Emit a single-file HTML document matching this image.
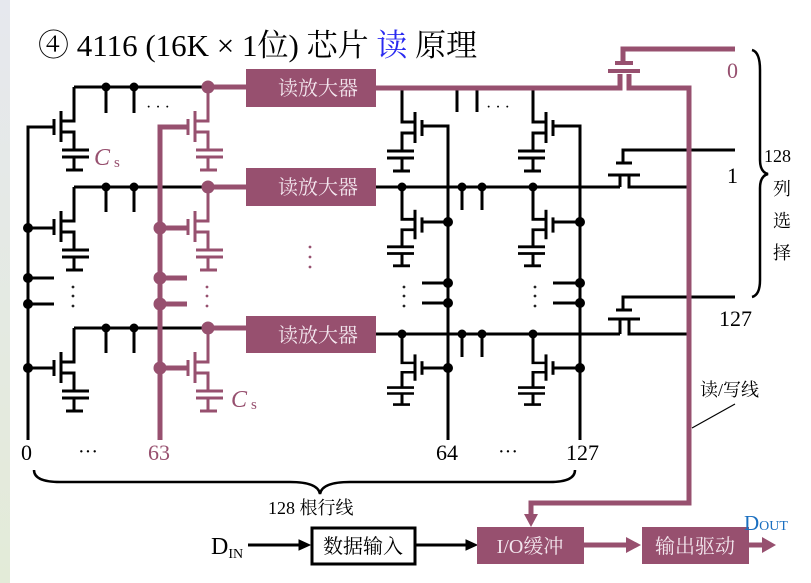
<!DOCTYPE html>
<html><head><meta charset="utf-8"><style>
html,body{margin:0;padding:0;background:#fff;}
svg{display:block;}
text{font-family:"Liberation Serif","Noto Serif CJK SC",serif;}
.bx{font-family:"Liberation Serif","Noto Serif CJK SC",serif;fill:#f3e6ee;font-size:20px;}
</style></head><body>
<svg width="811" height="583" viewBox="0 0 811 583" xmlns="http://www.w3.org/2000/svg">
<defs>
<linearGradient id="lg" x1="0" y1="0" x2="0" y2="1"><stop offset="0" stop-color="#e6e8ee"/><stop offset="1" stop-color="#e3ebd8"/></linearGradient>
<g id="cell" fill="none" stroke-width="3">
<path d="M0,0 V34 H-13"/><path d="M-13,24 V55"/><path d="M-20,32 V48"/>
<path d="M-13,45 H0 V63"/><path d="M-12,63 H15 M-12,70 H15 M0,70 V83 M-8,83 H9"/>
</g>
</defs>
<rect x="0" y="0" width="10" height="583" fill="url(#lg)"/>
<text x="38" y="56" font-size="31" fill="#000">④ 4116 (16K × 1位) 芯片 <tspan fill="#2a2af0">读</tspan> 原理</text>

<g stroke="#000" fill="#000" stroke-width="3">
<path d="M54,127 H28 V440" fill="none"/>
<path d="M28,228 H54 M28,278 H54 M28,304 H54 M28,368 H54"/>
<circle cx="28" cy="228" r="3.5"/><circle cx="28" cy="278" r="3.5"/><circle cx="28" cy="304" r="3.5"/><circle cx="28" cy="368" r="3.5"/>
<path d="M74,87 H208 M74,187 H208 M74,328 H208"/>
<path d="M106,87 V113 M134,87 V113 M106,187 V212 M134,187 V212 M106,328 V353 M134,328 V353"/>
<circle cx="106" cy="87" r="3"/><circle cx="134" cy="87" r="3"/><circle cx="106" cy="187" r="3"/><circle cx="134" cy="187" r="3"/><circle cx="106" cy="328" r="3"/><circle cx="134" cy="328" r="3"/>
<use href="#cell" x="74" y="87"/><use href="#cell" x="74" y="187"/><use href="#cell" x="74" y="328"/>
<path d="M376,187 H620 M376,334 H620"/>
<path d="M462,187 V210 M482,187 V210 M462,334 V357 M482,334 V357 M457,88 V112 M477,88 V112"/>
<circle cx="462" cy="187" r="3"/><circle cx="482" cy="187" r="3"/><circle cx="462" cy="334" r="3"/><circle cx="482" cy="334" r="3"/>
<circle cx="402" cy="187" r="3"/><circle cx="533" cy="187" r="3"/><circle cx="402" cy="334" r="3"/><circle cx="533" cy="334" r="3"/>
<path d="M421,126 H448 V440 M553,126 H580 V440" fill="none"/>
<path d="M448,222 H421 M448,283 H422 M448,303 H422 M448,368 H421 M580,222 H553 M580,283 H553 M580,303 H553 M580,368 H553"/>
<circle cx="448" cy="222" r="3.5"/><circle cx="448" cy="283" r="3.5"/><circle cx="448" cy="303" r="3.5"/><circle cx="448" cy="368" r="3.5"/>
<circle cx="580" cy="222" r="3.5"/><circle cx="580" cy="283" r="3.5"/><circle cx="580" cy="303" r="3.5"/><circle cx="580" cy="368" r="3.5"/>
<g transform="translate(402,88) scale(-1,1)"><use href="#cell"/></g>
<g transform="translate(533,88) scale(-1,1)"><use href="#cell"/></g>
<g transform="translate(402,187) scale(-1,0.95)"><use href="#cell"/></g>
<g transform="translate(533,187) scale(-1,0.95)"><use href="#cell"/></g>
<g transform="translate(402,334) scale(-1,0.85)"><use href="#cell"/></g>
<g transform="translate(533,334) scale(-1,0.85)"><use href="#cell"/></g>
<path d="M735,150 H623 V163 M616,163 H632 M608,175 H640 M620,175 V187 M629,175 V187 H690" fill="none"/>
<path d="M735,297 H623 V310 M616,310 H632 M608,319 H640 M620,319 V334 M629,319 V334 H690" fill="none"/>
<path d="M248,545 H300" /><path d="M416,545 H468"/>
<path d="M466,540 L477,545 L466,550 Z" stroke-width="1"/><path d="M299,540 L310,545 L299,550 Z" stroke-width="1"/>
<path d="M34,470 Q34,482 60,482 H290 Q318,482 320,494 Q322,482 350,482 H550 Q575,482 575,470" fill="none" stroke-width="2.5"/>
<path d="M752,50 Q760,52 760,70 V160 Q760,172 768,174 Q760,176 760,188 V280 Q760,295 752,297" fill="none" stroke-width="2.5"/>
<path d="M735,404 L692,428" stroke-width="1.2"/>
</g>

<g stroke="#97506f" fill="#97506f" stroke-width="3">
<path d="M187,127 H160 V440" fill="none" stroke-width="5"/>
<path d="M160,228 H187 M160,278 H187 M160,304 H187 M160,368 H187" stroke-width="5"/>
<circle cx="160" cy="228" r="5"/><circle cx="160" cy="278" r="5"/><circle cx="160" cy="304" r="5"/><circle cx="160" cy="368" r="5"/>
<g transform="translate(1,0)"><use href="#cell" x="207" y="87"/><use href="#cell" x="207" y="187"/><use href="#cell" x="207" y="328"/></g>
<path d="M208,87 H246 M208,187 H246 M208,328 H246" stroke-width="5"/>
<circle cx="208" cy="87" r="5"/><circle cx="208" cy="187" r="5"/><circle cx="208" cy="328" r="5"/>
<rect x="246" y="69" width="130" height="38" stroke="none"/>
<rect x="246" y="168" width="130" height="38" stroke="none"/>
<rect x="246" y="316" width="130" height="37" stroke="none"/>
<path d="M376,88 H620 V74 M629,74 V88 H689 V503 H531 V518" fill="none" stroke-width="5"/>
<path d="M524,514 L531,527 L538,514 Z" stroke="none"/>
<path d="M735,49 H623 V63" fill="none" stroke-width="5"/>
<path d="M615,63 H633 M608,71 H640" stroke-width="4"/>
<rect x="477" y="527" width="107" height="37" stroke="none"/>
<rect x="642" y="527" width="107" height="37" stroke="none"/>
<path d="M584,545 H628 M749,545 H764" stroke-width="5"/>
<path d="M626,537 L641,545 L626,553 Z M762,537 L776,545 L762,553 Z" stroke="none"/>
</g>
<rect x="312" y="528" width="103" height="36" fill="#fff" stroke="#000" stroke-width="3"/>

<g fill="#000" font-size="16">
<text x="146" y="112">· · ·</text>
<text x="486" y="112">· · ·</text>
<text x="78" y="458" font-size="20">···</text>
<text x="436" y="460" font-size="22">64</text>
<text x="498" y="458" font-size="20">···</text>
<text x="566" y="460" font-size="22">127</text>
<text x="21" y="460" font-size="22">0</text>
</g>
<g fill="#222">
<circle cx="73" cy="287" r="1.4"/><circle cx="73" cy="296" r="1.4"/><circle cx="73" cy="306" r="1.4"/>
<circle cx="404" cy="287" r="1.4"/><circle cx="404" cy="296" r="1.4"/><circle cx="404" cy="306" r="1.4"/>
<circle cx="535" cy="287" r="1.4"/><circle cx="535" cy="296" r="1.4"/><circle cx="535" cy="306" r="1.4"/>
</g>
<g fill="#97506f">
<circle cx="207" cy="287" r="1.4"/><circle cx="207" cy="296" r="1.4"/><circle cx="207" cy="306" r="1.4"/>
<circle cx="310" cy="247" r="1.4"/><circle cx="310" cy="257" r="1.4"/><circle cx="310" cy="267" r="1.4"/>
</g>
<text x="148" y="460" font-size="22" fill="#97506f">63</text>

<text x="94" y="165" font-size="24" font-style="italic" fill="#97506f">C</text><text x="114" y="167" font-size="15" fill="#97506f">s</text>
<text x="231" y="407" font-size="24" font-style="italic" fill="#97506f">C</text><text x="251" y="409" font-size="15" fill="#97506f">s</text>

<text class="bx" x="318" y="95" text-anchor="middle">读放大器</text>
<text class="bx" x="318" y="194" text-anchor="middle">读放大器</text>
<text class="bx" x="318" y="342" text-anchor="middle">读放大器</text>
<text class="bx" x="530" y="553" text-anchor="middle">I/O缓冲</text>
<text class="bx" x="695" y="553" text-anchor="middle">输出驱动</text>
<text x="363" y="553" text-anchor="middle" font-size="20" fill="#000">数据输入</text>

<text x="727" y="78" font-size="22" fill="#97506f">0</text>
<text x="727" y="183" font-size="22" fill="#000">1</text>
<text x="719" y="326" font-size="22" fill="#000">127</text>
<text x="764" y="162" font-size="18" fill="#000">128</text>
<text x="782" y="195" font-size="18" text-anchor="middle" fill="#000">列</text>
<text x="782" y="227" font-size="18" text-anchor="middle" fill="#000">选</text>
<text x="782" y="259" font-size="18" text-anchor="middle" fill="#000">择</text>
<text x="700" y="396" font-size="18" fill="#000">读/写线</text>
<text x="268" y="514" font-size="18" fill="#000">128 根行线</text>
<text x="211" y="554" font-size="24" fill="#000">D<tspan font-size="14" dy="4">IN</tspan></text>
<text x="744" y="530" font-size="21" fill="#1a6fc0">D<tspan font-size="14">OUT</tspan></text>
</svg>
</body></html>
